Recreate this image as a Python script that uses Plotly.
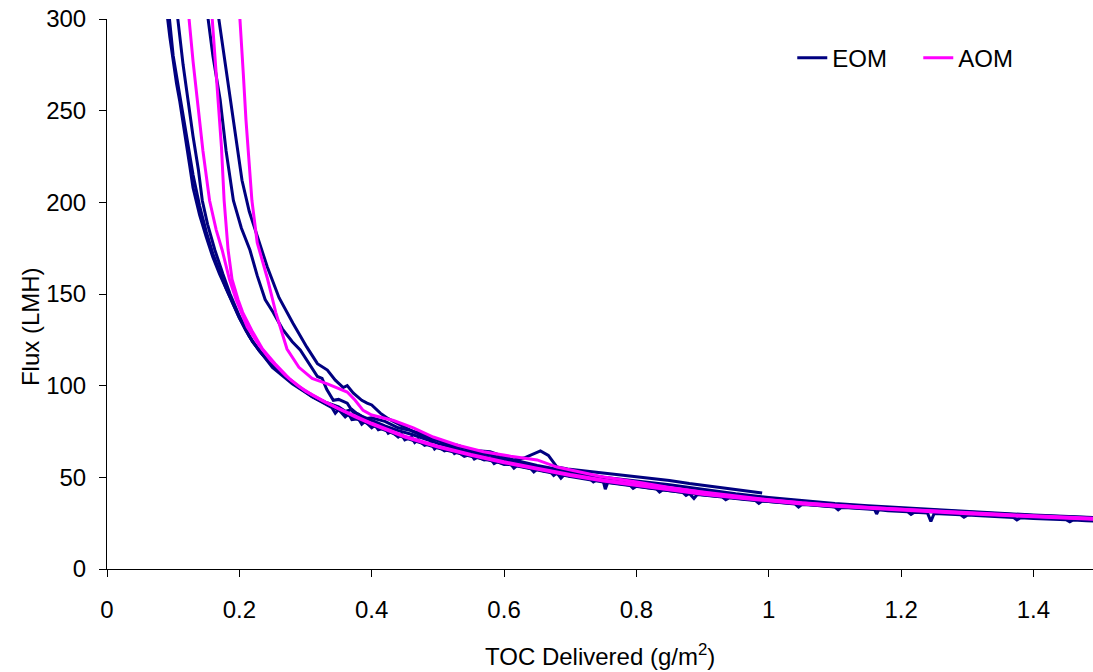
import plotly.graph_objects as go

# ---------------- data ----------------
# EOM runs (navy)
eom1_x = [0.088, 0.090, 0.095, 0.100, 0.105, 0.110, 0.115, 0.120, 0.125, 0.130, 0.140, 0.150, 0.160,
          0.170, 0.180, 0.190, 0.200, 0.210, 0.220, 0.235, 0.250, 0.265, 0.280, 0.295, 0.310, 0.325,
          0.340, 0.345, 0.350, 0.360, 0.365, 0.370, 0.380, 0.385, 0.390, 0.400, 0.405, 0.410, 0.420,
          0.425, 0.430, 0.440, 0.445, 0.450, 0.460, 0.465, 0.470, 0.480, 0.490, 0.495, 0.500, 0.510,
          0.520, 0.525, 0.530, 0.540, 0.550, 0.555, 0.560, 0.570, 0.580, 0.585, 0.590, 0.600, 0.610,
          0.615, 0.620, 0.640, 0.645, 0.650, 0.660, 0.670, 0.675, 0.680, 0.686, 0.692, 0.700, 0.710,
          0.720, 0.730, 0.735, 0.740, 0.750, 0.753, 0.757, 0.760, 0.780, 0.790, 0.795, 0.800, 0.820,
          0.830, 0.835, 0.840, 0.860, 0.870, 0.875, 0.880, 0.887, 0.892, 0.900, 0.920, 0.930, 0.935,
          0.940, 0.960, 0.980, 0.985, 0.990, 1.000, 1.020, 1.040, 1.045, 1.050, 1.060, 1.080, 1.100,
          1.105, 1.110, 1.120, 1.140, 1.160, 1.163, 1.166, 1.180, 1.200, 1.210, 1.215, 1.220, 1.240,
          1.245, 1.250, 1.260, 1.280, 1.290, 1.295, 1.300, 1.320, 1.340, 1.360, 1.370, 1.375, 1.380,
          1.400, 1.420, 1.440, 1.450, 1.455, 1.460, 1.480, 1.500]
eom1_y = [315, 305, 290, 276, 265, 255, 244, 232, 220, 208, 193, 181, 170,
          161, 153, 145, 137, 130, 124, 117, 111, 106, 102, 98, 94, 91,
          88, 85, 87, 83, 84.5, 81.5, 82, 79, 80.5, 77, 78.5, 76, 77,
          74, 75, 72, 73.5, 70.5, 72, 69, 70.5, 67.5, 68.5, 65.5, 67, 64.5,
          65.5, 63, 64, 61.5, 62.5, 60, 61, 59.5, 60, 57.5, 58.5, 57, 57.2,
          55, 56.5, 55, 53, 54.5, 53.5, 53, 51, 52.5, 49.5, 51.8, 50.5, 50.5,
          49.5, 49.2, 47.5, 48.6, 47.8, 43.5, 47.5, 47.2, 46.3, 45.8, 44, 45.2, 44.2,
          43.8, 42, 43.2, 42.2, 41.8, 40.2, 41.2, 38.5, 40.6, 40.3, 39.5, 39.2, 37.8,
          38.8, 38.1, 37.3, 35.8, 37.1, 36.8, 36.2, 35.4, 33.8, 35.2, 35.0, 34.3, 33.8,
          32.3, 33.6, 33.4, 32.8, 32.4, 30, 32.3, 31.8, 31.4, 31.2, 29.8, 31.0, 30.5,
          26, 30.3, 30.2, 29.8, 29.6, 28.3, 29.4, 29.0, 28.7, 28.3, 28.1, 26.8, 27.9,
          27.6, 27.3, 27.0, 26.8, 25.7, 26.7, 26.3, 26.2]

eom1b_x = [0.091, 0.093, 0.100, 0.110, 0.120, 0.130, 0.140, 0.150, 0.160, 0.170, 0.180, 0.190, 0.200,
           0.220, 0.250, 0.280, 0.310, 0.340, 0.370, 0.400, 0.450, 0.500, 0.550, 0.600, 0.650, 0.700,
           0.750, 0.800, 0.850, 0.900, 0.950, 1.000, 1.100, 1.200, 1.300, 1.400, 1.500]
eom1b_y = [315, 305, 280, 258, 236, 215, 198, 184, 172, 162, 153, 145, 137,
           124, 110, 101, 94, 88.5, 83, 78.5, 71.5, 66, 61.5, 57.5, 54, 50.5,
           47.5, 45, 42.7, 40.5, 38.6, 36.8, 34, 31.9, 30.1, 28.4, 27.0]

eom2_x = [0.105, 0.107, 0.115, 0.122, 0.130, 0.138, 0.144, 0.152, 0.163, 0.175, 0.186, 0.200, 0.215,
          0.230, 0.250, 0.270, 0.290, 0.310, 0.330, 0.350, 0.360, 0.370, 0.380, 0.400, 0.420, 0.440,
          0.460, 0.480, 0.500, 0.520, 0.540, 0.560, 0.580, 0.600, 0.650, 0.700, 0.750, 0.800, 0.850,
          0.900, 0.950, 1.000, 1.050, 1.100, 1.150, 1.200, 1.300, 1.400, 1.500]
eom2_y = [305, 300, 275, 256, 236, 218, 201, 188, 174, 161, 150, 138, 127,
          119, 111, 105, 99, 94.5, 91, 88.5, 86, 87, 84, 81, 78, 75.5,
          73.5, 71, 68.5, 66.5, 64.5, 62.5, 60.5, 59, 55.5, 52, 49, 46.5, 44,
          42, 40, 38, 36.5, 35, 34, 33, 31, 29.2, 27.8]

eom3_x = [0.151, 0.153, 0.160, 0.171, 0.180, 0.191, 0.203, 0.216, 0.227, 0.239, 0.251, 0.265, 0.280,
          0.292, 0.305, 0.318, 0.325, 0.332, 0.342, 0.350, 0.363, 0.372, 0.380, 0.390, 0.400, 0.420,
          0.440, 0.460, 0.480, 0.500, 0.520, 0.540, 0.560, 0.580, 0.600, 0.620, 0.650, 0.700, 0.750,
          0.800, 0.850, 0.900, 0.950, 1.000, 1.050, 1.100, 1.150, 1.200, 1.250, 1.300, 1.350, 1.400,
          1.450, 1.500]
eom3_y = [305, 300, 280, 256, 228, 201, 186, 174, 160, 147, 140, 131, 124,
          119.5, 112, 105, 104, 98, 92, 92.5, 90.5, 85.5, 84.5, 82, 82.5, 80.5,
          77, 75.5, 72, 70, 67.5, 66, 63.5, 62, 60, 59, 56.5, 53, 50,
          48, 46, 43.5, 41, 39, 37.3, 35.7, 34.5, 33.4, 32.4, 31.4, 30.4, 29.5,
          28.6, 27.9]

eom4_x = [0.167, 0.169, 0.178, 0.186, 0.196, 0.204, 0.215, 0.228, 0.242, 0.260, 0.281, 0.302, 0.318,
          0.333, 0.345, 0.357, 0.363, 0.372, 0.385, 0.393, 0.400, 0.413, 0.425, 0.438, 0.450, 0.463,
          0.475, 0.489, 0.500, 0.514, 0.530, 0.549, 0.560, 0.579, 0.595, 0.614, 0.630, 0.640, 0.655,
          0.667, 0.680, 0.696, 0.720, 0.750, 0.780, 0.800, 0.830, 0.850, 0.880, 0.900, 0.930, 0.950,
          0.970, 0.990]
eom4_y = [305, 300, 275, 256, 230, 212, 195, 180, 165, 148, 134, 121, 112,
          108.5, 103, 99, 100, 96, 92, 90.5, 89.5, 85, 82, 79.5, 77.5, 75,
          74, 71, 70.5, 68, 67.5, 65, 64.5, 64, 62, 59.5, 60.5, 62, 64.4,
          62, 55.6, 54.5, 53.5, 52.5, 51.2, 50.4, 49, 48.3, 46.6, 45.6, 44.2, 43.3,
          42.3, 41.4]

# AOM runs (magenta)
aom1_x = [0.122, 0.124, 0.130, 0.136, 0.145, 0.155, 0.165, 0.174, 0.185, 0.195, 0.212, 0.230, 0.247,
          0.270, 0.290, 0.310, 0.330, 0.350, 0.375, 0.400, 0.450, 0.500, 0.550, 0.600, 0.650, 0.700,
          0.750, 0.800, 0.850, 0.900, 0.950, 1.000, 1.050, 1.100, 1.150, 1.200, 1.250, 1.300, 1.350,
          1.400, 1.450, 1.500]
aom1_y = [305, 300, 277, 256, 228, 201, 185, 174, 158, 147, 132, 122, 114,
          105.5, 99.5, 95, 91, 87.5, 83.5, 79.5, 72.5, 67, 62.5, 58.5, 55, 51.5,
          48.5, 46, 43.5, 41.3, 39.3, 37.5, 36, 34.6, 33.5, 32.4, 31.4, 30.5, 29.6,
          28.8, 28.0, 27.3]

aom2_x = [0.158, 0.159, 0.163, 0.168, 0.173, 0.177, 0.183, 0.189, 0.198, 0.205, 0.219, 0.235, 0.254,
          0.275, 0.300, 0.325, 0.350, 0.375, 0.400, 0.450, 0.500, 0.550, 0.600, 0.650, 0.700, 0.750,
          0.800, 0.850, 0.900, 0.950, 1.000, 1.050, 1.100, 1.150, 1.200, 1.250, 1.300, 1.350, 1.400,
          1.450, 1.500]
aom2_y = [305, 300, 280, 256, 230, 201, 174, 158, 147, 140, 130, 120, 112,
          104, 97, 92, 87.5, 83, 79, 72, 66.5, 62, 58, 54.5, 51, 48,
          45.5, 43, 40.8, 38.8, 37, 35.5, 34.2, 33.1, 32.1, 31.1, 30.2, 29.3, 28.5,
          27.7, 27.0]

aom3_x = [0.200, 0.201, 0.206, 0.210, 0.214, 0.219, 0.227, 0.242, 0.255, 0.272, 0.290, 0.310, 0.333,
          0.347, 0.363, 0.375, 0.387, 0.400, 0.433, 0.463, 0.493, 0.530, 0.569, 0.610, 0.650, 0.680,
          0.710, 0.746, 0.800, 0.850, 0.900, 0.950, 1.000, 1.050, 1.100, 1.150, 1.200, 1.250, 1.300,
          1.350, 1.400, 1.450, 1.500]
aom3_y = [305, 300, 270, 245, 225, 201, 178, 159, 140, 120, 110, 104, 101,
          99, 96.5, 92, 86.5, 84, 81, 77, 72, 67.5, 64, 61.5, 59.5, 55.6,
          53.3, 50.5, 47.5, 44.5, 42, 39.8, 37.8, 36.1, 34.7, 33.6, 32.6, 31.6, 30.6,
          29.8, 29.0, 28.2, 27.5]

x_ticks = [0, 0.2, 0.4, 0.6, 0.8, 1.0, 1.2, 1.4]
y_ticks = [0, 50, 100, 150, 200, 250, 300]

EOM_COLOR = "#000080"
AOM_COLOR = "#FF00FF"
FONT = "Liberation Sans, Arial, sans-serif"

eom_runs = [(eom1_x, eom1_y), (eom1b_x, eom1b_y), (eom2_x, eom2_y), (eom3_x, eom3_y), (eom4_x, eom4_y)]
aom_runs = [(aom1_x, aom1_y), (aom2_x, aom2_y), (aom3_x, aom3_y)]

fig = go.Figure()
for i, (xs, ys) in enumerate(eom_runs):
    fig.add_trace(go.Scatter(x=xs, y=ys, mode="lines", name="EOM", legendgroup="EOM",
                             showlegend=(i == 0), line=dict(color=EOM_COLOR, width=3)))
for i, (xs, ys) in enumerate(aom_runs):
    fig.add_trace(go.Scatter(x=xs, y=ys, mode="lines", name="AOM", legendgroup="AOM",
                             showlegend=(i == 0), line=dict(color=AOM_COLOR, width=3)))

fig.update_layout(
    width=1093, height=672,
    margin=dict(l=107, r=0, t=19, b=103),
    paper_bgcolor="white", plot_bgcolor="white",
    font=dict(family=FONT, size=24, color="black"),
    showlegend=True,
    legend=dict(orientation="h", x=0.695, y=0.929, xanchor="left", yanchor="middle",
                bgcolor="rgba(0,0,0,0)", font=dict(size=24), traceorder="normal",
                entrywidth=81, entrywidthmode="pixels"),
    xaxis=dict(range=[0, 1.49], tickvals=x_ticks, ticks="outside", ticklen=7, tickwidth=1,
               tickcolor="black", showline=True, linecolor="black", linewidth=1,
               showgrid=False, zeroline=False, ticklabelstandoff=12),
    yaxis=dict(range=[0, 300], tickvals=y_ticks, ticks="outside", ticklen=7, tickwidth=1,
               tickcolor="black", showline=True, linecolor="black", linewidth=1,
               showgrid=False, zeroline=False, ticklabelstandoff=8),
    annotations=[
        dict(text="TOC Delivered (g/m<sup>2</sup>)", xref="paper", yref="paper",
             x=0.5, y=-0.156, xanchor="center", yanchor="middle", showarrow=False,
             font=dict(size=24)),
        dict(text="Flux (LMH)", xref="paper", yref="paper", textangle=-90,
             x=-0.078, y=0.44, xanchor="center", yanchor="middle", showarrow=False,
             font=dict(size=24)),
    ],
)

fig.write_html("out.html")
